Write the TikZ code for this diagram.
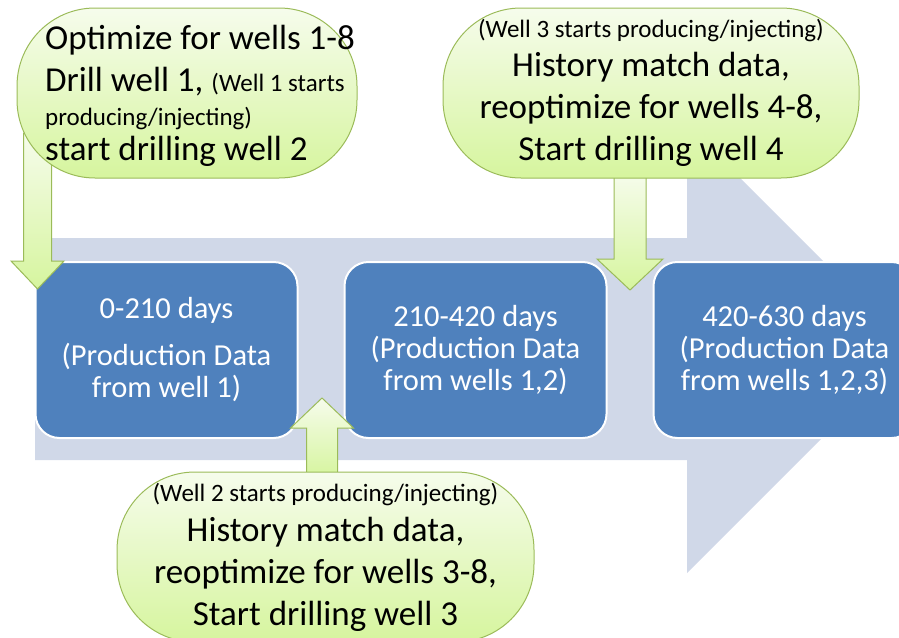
\documentclass[tikz,border=0pt]{standalone}
\usepackage{fontspec}
\setmainfont{Carlito}
\usetikzlibrary{positioning,calc}
\definecolor{arrowgrey}{RGB}{208,216,232}
\definecolor{boxblue}{RGB}{79,129,189}
\definecolor{calloutline}{RGB}{155,187,89}
\definecolor{callouttop}{RGB}{246,252,236}
\definecolor{calloutbottom}{RGB}{214,245,158}
\newcommand{\smalltext}{\fontsize{25}{28}\selectfont}
% #1 start, #2 tip, #3 half shaft, #4 half head, #5 head length
\newcommand{\fatarrow}[5]{%
  \path[greenarrow] let \p1=(#1), \p2=(#2), \n1={sign(\y1-\y2)} in
    (\x2-#3pt,\y1) -- (\x2-#3pt,{\y2+\n1*#5pt}) -- (\x2-#4pt,{\y2+\n1*#5pt})
    -- (\x2,\y2) -- (\x2+#4pt,{\y2+\n1*#5pt}) -- (\x2+#3pt,{\y2+\n1*#5pt})
    -- (\x2+#3pt,\y1) -- cycle;}
\begin{document}
\begin{tikzpicture}[x=1pt, y=-1pt,
  daybox/.style={draw=white, line width=2pt, fill=boxblue, rounded corners=24pt,
    minimum width=262pt, minimum height=176pt, inner sep=0pt, text=white,
    align=center, font=\fontsize{30.5}{32}\selectfont},
  callout/.style={draw=calloutline, line width=1pt, top color=callouttop,
    bottom color=calloutbottom, rounded corners=78pt, minimum height=170pt,
    inner sep=0pt, align=center, font=\fontsize{35}{42}\selectfont},
  greenarrow/.style={draw=calloutline, line width=1pt, top color=callouttop,
    bottom color=calloutbottom}]
  \useasboundingbox (0,0) rectangle (899,637);
  \clip (0,0) rectangle (899,637);
  \fill[arrowgrey] (35,238) -- (687,238) -- (687,125) -- (911,349)
    -- (687,573) -- (687,460) -- (35,460) -- cycle;
  \node[daybox] (b1) at (166.5,350) {0-210 days\\[15pt](Production Data\\from well 1)};
  \node[daybox, right=45pt of b1] (b2) {210-420 days\\(Production Data\\from wells 1,2)};
  \node[daybox, right=45pt of b2] (b3) {420-630 days\\(Production Data\\from wells 1,2,3)};
  \coordinate (c1pos) at (187,93);
  \coordinate (c2pos) at (651,93);
  \coordinate (c3pos) at (325.5,557);
  \coordinate (a1s) at ($(c1pos)+(-149,40)$);
  \coordinate (a1e) at ($(b1.north west)+(3,28)$);
  \coordinate (a2s) at ($(c2pos)+(-25,80)$);
  \coordinate (a2e) at ($($(b2.north east)!0.5!(b3.north west)$)+(0,29)$);
  \coordinate (a3s) at ($(c3pos)+(-4,-80)$);
  \coordinate (a3e) at ($($(b1.south east)!0.5!(b2.south west)$)+(1,-41)$);
  \fatarrow{a1s}{a1e}{14}{26.5}{28}
  \fatarrow{a2s}{a2e}{16}{33}{31}
  \fatarrow{a3s}{a3e}{15.5}{31.5}{30}
  \node[callout, minimum width=340pt] (c1) at (c1pos) {};
  \node[anchor=west, align=left, inner sep=0pt, font=\fontsize{35}{42}\selectfont]
    (c1text) at (45,96) {Optimize for wells 1-8\\Drill well 1, {\smalltext(Well 1 starts}\\[-8pt]
    {\smalltext producing/injecting)}\\[-7pt]start drilling well 2};
  \node[callout, minimum width=416pt] (c2) at (c2pos) {{\smalltext(Well 3 starts producing/injecting)}\\[-3pt]
    History match data,\\reoptimize for wells 4-8,\\Start drilling well 4};
  \node[callout, minimum width=417pt] (c3) at (c3pos) {{\smalltext(Well 2 starts producing/injecting)}\\[-2pt]
    History match data,\\reoptimize for wells 3-8,\\Start drilling well 3};
\end{tikzpicture}
\end{document}
